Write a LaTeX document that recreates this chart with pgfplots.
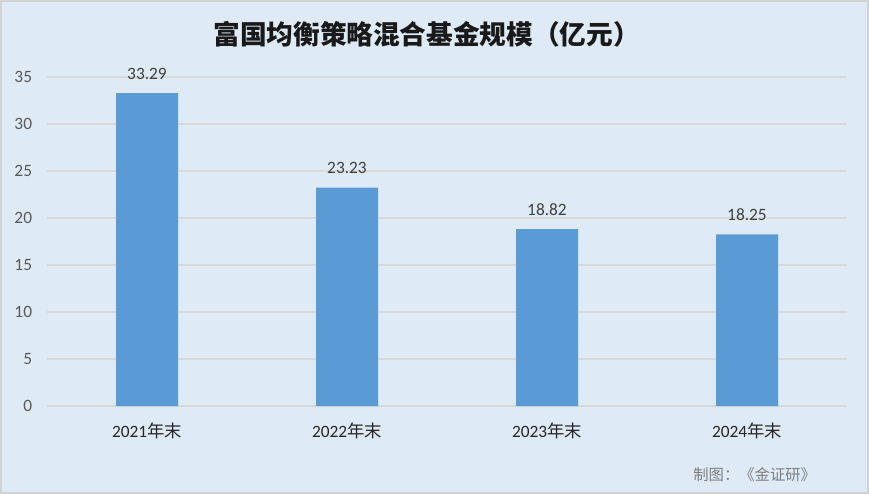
\documentclass[border=0pt]{standalone}
\usepackage{fontspec}
\usepackage{pgfplots}
\pgfplotsset{compat=1.18}
\setmainfont{Carlito}
\newfontfamily\cjk{Noto Sans CJK SC}

\definecolor{bgblue}{RGB}{222,235,247}
\definecolor{framegray}{RGB}{210,210,210}
\definecolor{gridgray}{RGB}{217,217,217}
\definecolor{barblue}{RGB}{91,155,213}
\definecolor{ticktext}{RGB}{89,89,89}
\definecolor{valtext}{RGB}{64,64,64}
\definecolor{notegray}{RGB}{127,127,127}

\begin{document}
\begin{tikzpicture}
    % chart area: 869 x 494 px, 1px = 0.75pt
    \fill[bgblue, draw=framegray, line width=1.5pt]
        (0.75pt,0.75pt) rectangle (651pt,369.75pt);

    \node[font=\cjk\bfseries\fontsize{20pt}{23pt}\selectfont, text=black!90]
        at (320pt,345pt) {富国均衡策略混合基金规模（亿元）};

    \node[font=\cjk\fontsize{11.5pt}{13pt}\selectfont, text=notegray]
        at (566pt,14.5pt) {制图：《金证研》};

    \begin{axis}[
            at={(35.25pt,66pt)},
            anchor=south west,
            scale only axis,
            width=600pt,
            height=246.75pt,
            ybar,
            bar width=46.5pt,
            xmin=-0.5, xmax=3.5,
            ymin=0, ymax=35,
            ytick={0,5,...,35},
            xtick=data,
            xticklabels={2021{\cjk 年末},2022{\cjk 年末},2023{\cjk 年末},2024{\cjk 年末}},
            ymajorgrids,
            grid style={gridgray, line width=1.1pt},
            axis line style={draw=none},
            tick style={draw=none},
            /pgf/number format/assume math mode=true,
            yticklabel style={font=\fontsize{13pt}{15pt}\selectfont, text=ticktext,
                inner sep=0pt, anchor=east, xshift=-11pt},
            xticklabel style={font=\fontsize{13pt}{15pt}\selectfont, text=black!85,
                inner sep=0pt, anchor=north, yshift=-8pt},
            nodes near coords,
            nodes near coords style={font=\fontsize{13pt}{15pt}\selectfont, text=valtext,
                inner sep=0pt, anchor=south, yshift=10pt,
                /pgf/number format/.cd, fixed, fixed zerofill, precision=2},
        ]
        \addplot[fill=barblue, draw=none] coordinates {
            (0,33.29) (1,23.23) (2,18.82) (3,18.25)
        };
    \end{axis}
\end{tikzpicture}
\end{document}
